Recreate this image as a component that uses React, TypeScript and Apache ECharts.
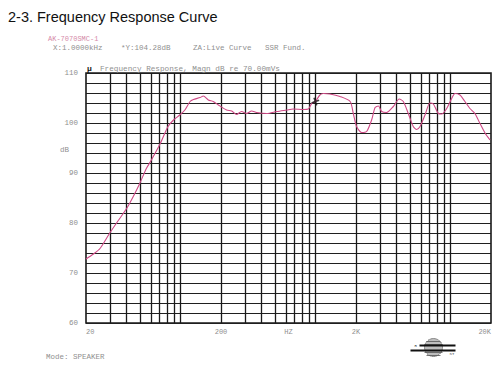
import React, { useEffect, useRef } from "react";
import * as echarts from "echarts";

// Measured response (Hz, dB)
const freqs = [20, 22.7, 25.4, 30, 34.7, 40, 44.8, 50, 56, 61, 71, 81, 89, 99, 108, 118, 125, 140, 148, 161, 175, 191, 220, 240, 261, 284, 310, 337, 367, 437, 518, 614, 687, 815, 887, 940, 1000, 1080, 1150, 1280, 1520, 1810, 1910, 2020, 2200, 2400, 2610, 2770, 2930, 3100, 3370, 3780, 4180, 4480, 4880, 5310, 5630, 5960, 6490, 7060, 7480, 8150, 8630, 9400, 10230, 10820, 11780, 12820, 13960, 15200, 16580, 18060, 19680];
const levels = [72.8, 73.8, 74.9, 78.0, 80.5, 82.9, 85.3, 87.9, 90.9, 92.6, 95.9, 99.3, 100.6, 101.6, 102.6, 104.3, 104.7, 105.1, 105.4, 104.6, 104.3, 103.6, 102.6, 102.4, 101.7, 102.3, 101.9, 102.4, 102.1, 101.9, 102.3, 102.6, 102.8, 102.7, 102.8, 103.9, 104.3, 105.6, 105.9, 105.8, 105.3, 104.3, 101.9, 99.3, 98.1, 98.3, 100.6, 103.1, 103.4, 102.3, 102.1, 103.3, 104.8, 104.3, 101.9, 99.3, 98.7, 99.3, 101.6, 104.0, 103.8, 101.9, 101.8, 102.9, 104.9, 105.9, 105.6, 104.3, 102.9, 101.9, 99.9, 98.0, 96.6];

// Cursor marker
const cursorFreq = 1000;
const cursorLevel = 104.28;

// Vertical grid lines (Hz)
const gridFreqs = [30, 40, 50, 60, 70, 80, 90, 100, 200, 300, 400, 500, 600, 700, 800, 900, 1000, 2000, 3000, 4000, 5000, 6000, 7000, 8000, 9000, 10000];

// X tick labels at half-decade steps from 20 Hz
const xTickLabels = ["20", "", "200", "HZ", "2K", "", "20K"];

const F0 = 20;
const lx = (f: number) => Math.log10(f / F0);

const mono = "'Liberation Mono', 'DejaVu Sans Mono', monospace";
const gray = "#8f8f8f";

export default function App() {
  const ref = useRef<HTMLDivElement>(null);
  useEffect(() => {
    if (!ref.current) return;
    const chart = echarts.init(ref.current, null, { renderer: "svg" });
    const data = freqs.map((f, i) => [lx(f), levels[i]]);
    chart.setOption({
      animation: false,
      backgroundColor: "#ffffff",
      grid: {
        left: 86,
        right: 9,
        top: 73,
        bottom: 47,
        show: true,
        borderColor: "#1a1a1a",
        borderWidth: 1.6,
        backgroundColor: "transparent",
      },
      xAxis: {
        type: "value",
        min: 0,
        max: 3,
        interval: 0.5,
        axisLine: { show: false },
        axisTick: { show: false },
        splitLine: { show: false },
        axisLabel: {
          margin: 5,
          color: gray,
          fontFamily: mono,
          fontSize: 7,
          alignMinLabel: "left",
          alignMaxLabel: "right",
          formatter: (v: number) => {
            const i = Math.round(v * 2);
            return xTickLabels[i] ?? "";
          },
        },
      },
      yAxis: {
        type: "value",
        min: 60,
        max: 110,
        interval: 2,
        axisLine: { show: false },
        axisTick: { show: false },
        splitLine: { show: true, lineStyle: { color: "#1f1f1f", width: 1.2 } },
        axisLabel: {
          margin: 8,
          color: gray,
          fontFamily: mono,
          fontSize: 7.5,
          formatter: (v: number) => (Math.round(v) % 10 === 0 ? String(v) : ""),
        },
      },
      series: [
        {
          type: "line",
          data,
          smooth: 0.25,
          symbol: "none",
          lineStyle: { color: "#cf4a86", width: 1.1 },
          z: 5,
          markLine: {
            silent: true,
            symbol: ["none", "none"],
            label: { show: false },
            lineStyle: { color: "#1a1a1a", width: 1.3, type: "solid" },
            data: gridFreqs.map((f) => ({ xAxis: lx(f) })),
            z: 2,
          },
        },
        {
          type: "scatter",
          data: [[lx(cursorFreq), cursorLevel]],
          symbol: "path://M4,0h2v4h4v2h-4v4h-2v-4h-4v-2h4z",
          symbolSize: 8,
          symbolRotate: 20,
          itemStyle: { color: "#111" },
          z: 6,
        },
      ],
      graphic: [
        {
          type: "text",
          left: 8,
          top: 9,
          style: {
            text: "2-3. Frequency Response Curve",
            font: "14.5px 'Liberation Sans', Arial, sans-serif",
            fill: "#111",
          },
        },
        {
          type: "text",
          left: 48,
          top: 35,
          style: { text: "AK-7070SMC-1", font: `7px ${mono}`, fill: "#d58aa8" },
        },
        {
          type: "text",
          left: 53,
          top: 44,
          style: { text: "X:1.0000kHz", font: `7.5px ${mono}`, fill: gray },
        },
        {
          type: "text",
          left: 121,
          top: 44,
          style: { text: "*Y:104.28dB", font: `7.5px ${mono}`, fill: gray },
        },
        {
          type: "text",
          left: 193,
          top: 44,
          style: { text: "ZA:Live Curve", font: `7.5px ${mono}`, fill: gray },
        },
        {
          type: "text",
          left: 265,
          top: 44,
          style: { text: "SSR Fund.", font: `7.5px ${mono}`, fill: gray },
        },
        {
          type: "text",
          left: 87,
          top: 64,
          style: { text: "μ", font: `bold 8px ${mono}`, fill: "#111" },
        },
        {
          type: "text",
          left: 100,
          top: 65,
          style: {
            text: "Frequency Response, Magn dB re 70.00mVs",
            font: `7.7px ${mono}`,
            fill: gray,
          },
        },
        {
          type: "text",
          left: 60,
          top: 146,
          style: { text: "dB", font: `7.5px ${mono}`, fill: gray },
        },
        {
          type: "text",
          left: 46,
          top: 353,
          style: { text: "Mode: SPEAKER", font: `7.5px ${mono}`, fill: gray },
        },
        {
          type: "group",
          left: 408,
          top: 338,
          children: [
            {
              type: "circle",
              shape: { cx: 24, cy: 11, r: 9 },
              style: { fill: "#bdbdbd", stroke: "#444", lineWidth: 1, lineDash: [1, 1] },
            },
            { type: "line", shape: { x1: 17, y1: 5, x2: 31, y2: 5 }, style: { stroke: "#555", lineWidth: 0.8 } },
            { type: "line", shape: { x1: 15, y1: 8, x2: 33, y2: 8 }, style: { stroke: "#555", lineWidth: 0.8 } },
            { type: "line", shape: { x1: 15, y1: 16, x2: 33, y2: 16 }, style: { stroke: "#555", lineWidth: 0.8 } },
            { type: "line", shape: { x1: 17, y1: 19, x2: 31, y2: 19 }, style: { stroke: "#555", lineWidth: 0.8 } },
            { type: "line", shape: { x1: 10, y1: 9, x2: 46, y2: 9 }, style: { stroke: "#111", lineWidth: 2 } },
            { type: "line", shape: { x1: 1, y1: 14, x2: 46, y2: 14 }, style: { stroke: "#111", lineWidth: 2 } },
            { type: "text", x: 5, y: 7, style: { text: "R", font: `4px ${mono}`, fill: "#333" } },
            { type: "text", x: 40, y: 15, style: { text: "ST", font: `4px ${mono}`, fill: "#333" } },
          ],
        },
      ],
    });
    return () => chart.dispose();
  }, []);
  return (
    <div
      ref={ref}
      style={{ position: "fixed", left: 0, top: 0, width: 500, height: 370, background: "#fff" }}
    />
  );
}
